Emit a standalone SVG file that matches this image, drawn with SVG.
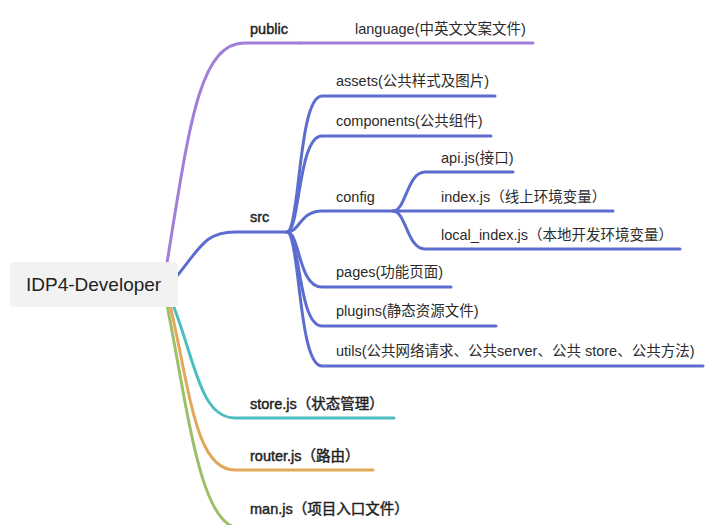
<svg xmlns="http://www.w3.org/2000/svg" width="721" height="525" viewBox="0 0 721 525">
<style>
text{font-family:"Liberation Sans","Noto Sans CJK SC",sans-serif;fill:#2b2b2b;}
.t1{font-size:14.5px;fill:#1f1f1f;stroke:#1f1f1f;stroke-width:0.45px;}
.t2{font-size:14.5px;}
.root{font-size:19px;fill:#222;}
.c{fill:none;stroke-width:3;stroke-linecap:round;}
.pu{stroke:#a07fd8;}
.bl{stroke:#5d6dcf;}
.te{stroke:#4dbdc0;}
.or{stroke:#e2a859;}
.gr{stroke:#9cbf68;}
</style>
<rect width="721" height="525" fill="#ffffff"/>
<g id="connectors">
<path class="c pu" d="M167,263 C190,120 200,43 245,43 H300"/>
<path class="c pu" d="M300,43 H533"/>
<path class="c bl" d="M177,276 C200,248 205,232 235,232 H287"/>
<path class="c bl" d="M287,232 C300,232 298,96 322,96 H495"/>
<path class="c bl" d="M287,232 C300,232 298,136 322,136 H491"/>
<path class="c bl" d="M287,232 C300,232 300,211 322,211 H393"/>
<path class="c bl" d="M393,211 C406,211 407,172 425,172 H513"/>
<path class="c bl" d="M393,211 H613"/>
<path class="c bl" d="M393,211 C406,211 407,249 425,249 H680"/>
<path class="c bl" d="M287,232 C300,232 298,287 322,287 H451"/>
<path class="c bl" d="M287,232 C300,232 298,326 322,326 H496"/>
<path class="c bl" d="M287,232 C300,232 298,366 322,366 H703"/>
<path class="c te" d="M173,305 C195,360 200,418 235,418 H394"/>
<path class="c or" d="M170,305 C190,390 195,470 235,470 H373"/>
<path class="c gr" d="M167,305 C188,410 200,528 240,528 H400"/>
</g>
<g id="root">
<rect x="10" y="262" width="168" height="45" rx="4" fill="#f2f2f2"/>
<text class="root" x="26" y="291">IDP4-Developer</text>
</g>
<g id="public"><text class="t1" x="250" y="34">public</text></g>
<g id="language"><text class="t2" x="355" y="34">language(中英文文案文件)</text></g>
<g id="src"><text class="t1" x="250" y="222">src</text></g>
<g id="assets"><text class="t2" x="336" y="86">assets(公共样式及图片)</text></g>
<g id="components"><text class="t2" x="336" y="126">components(公共组件)</text></g>
<g id="config"><text class="t2" x="336" y="202">config</text></g>
<g id="api"><text class="t2" x="441" y="163">api.js(接口)</text></g>
<g id="index"><text class="t2" x="441" y="202">index.js（线上环境变量）</text></g>
<g id="local_index"><text class="t2" x="441" y="240">local_index.js（本地开发环境变量）</text></g>
<g id="pages"><text class="t2" x="336" y="277">pages(功能页面)</text></g>
<g id="plugins"><text class="t2" x="336" y="316">plugins(静态资源文件)</text></g>
<g id="utils"><text class="t2" x="336" y="356">utils(公共网络请求、公共server、公共 store、公共方法)</text></g>
<g id="store"><text class="t1" x="250" y="409">store.js（状态管理）</text></g>
<g id="router"><text class="t1" x="250" y="461">router.js（路由）</text></g>
<g id="man"><text class="t1" x="250" y="514">man.js（项目入口文件）</text></g>
</svg>
